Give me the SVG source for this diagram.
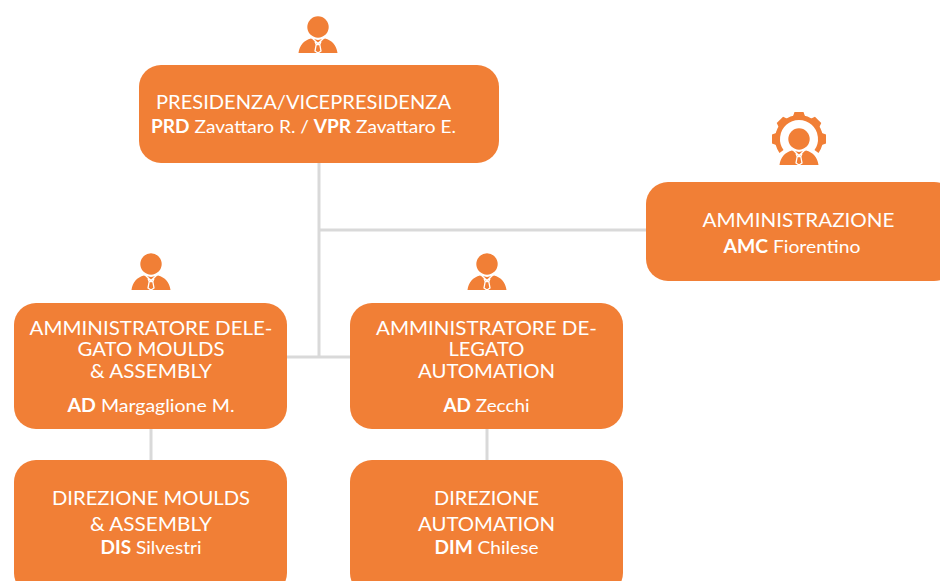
<svg xmlns="http://www.w3.org/2000/svg" width="940" height="581" viewBox="0 0 940 581">
<style>
.box{fill:#f17f36}
.l{stroke:#d9d9d9;stroke-width:3;fill:none}
text{font-family:"Lato","Open Sans","Liberation Sans",sans-serif;fill:#fff;text-anchor:middle}
.t{font-size:20px}
.s{font-size:18px}
.b{font-weight:700}
.ic{fill:#f17f36}
.tie{fill:none;stroke:#fff;stroke-width:1.3}
.tooth{fill:#f17f36}
</style>
<defs>
<g id="person">
<circle class="ic" cx="0" cy="0" r="10.700"/>
<path class="ic" d="M-19.500 26C-18.500 18-14 13.500-7 11.500L0 13L7 11.500C14 13.500 18.500 18 19.500 26Z"/>
<path class="tie" d="M-6.500 10.500L0 16.500L6.500 10.500M-3 14.500L-1.800 17.500L-3 24L0 26L3 24L1.800 17.500L3 14.500M-1.800 17.500H1.800"/>
</g>
<path id="tooth" class="tooth" d="M-7 -20L-4.500 -27H4.500L7 -20Z"/>
</defs>
<g id="connectors">
<path class="l" d="M319 162V357M319 230H646M287 357H351M151 428V461M487 428V461"/>
</g>
<g id="presidenza">
<use href="#person" x="318" y="27"/>
<rect class="box" x="139" y="65" width="360" height="98" rx="22"/>
<text class="t" x="303.500" y="109" textLength="295" lengthAdjust="spacingAndGlyphs">PRESIDENZA/VICEPRESIDENZA</text>
<text class="s" x="303.500" y="133" textLength="305" lengthAdjust="spacingAndGlyphs"><tspan class="b">PRD</tspan> Zavattaro R. / <tspan class="b">VPR</tspan> Zavattaro E.</text>
</g>
<g id="amministrazione">
<g transform="translate(799 139)">
<path d="M-17.500 12.500A21.500 21.500 0 1 1 17.500 12.500" fill="none" stroke="#f17f36" stroke-width="5"/>
<use href="#tooth"/>
<use href="#tooth" transform="rotate(45)"/>
<use href="#tooth" transform="rotate(90)"/>
<use href="#tooth" transform="rotate(-45)"/>
<use href="#tooth" transform="rotate(-90)"/>
</g>
<use href="#person" x="799" y="139"/>
<rect class="box" x="646" y="182" width="310" height="99" rx="22"/>
<text class="t" x="798.500" y="227" textLength="192" lengthAdjust="spacingAndGlyphs">AMMINISTRAZIONE</text>
<text class="s" x="792" y="253" textLength="137" lengthAdjust="spacingAndGlyphs"><tspan class="b">AMC</tspan> Fiorentino</text>
</g>
<g id="ad-moulds">
<use href="#person" x="151" y="264"/>
<rect class="box" x="14" y="303" width="273" height="126" rx="22"/>
<text class="t" x="151" y="335" textLength="243" lengthAdjust="spacingAndGlyphs">AMMINISTRATORE DELE-</text>
<text class="t" x="151" y="356" textLength="147" lengthAdjust="spacingAndGlyphs">GATO MOULDS</text>
<text class="t" x="151" y="378" textLength="122" lengthAdjust="spacingAndGlyphs">&amp; ASSEMBLY</text>
<text class="s" x="151" y="412" textLength="167" lengthAdjust="spacingAndGlyphs"><tspan class="b">AD</tspan> Margaglione M.</text>
</g>
<g id="ad-automation">
<use href="#person" x="487" y="264"/>
<rect class="box" x="350" y="303" width="273" height="126" rx="22"/>
<text class="t" x="486.500" y="335" textLength="221" lengthAdjust="spacingAndGlyphs">AMMINISTRATORE DE-</text>
<text class="t" x="486.500" y="356" textLength="76" lengthAdjust="spacingAndGlyphs">LEGATO</text>
<text class="t" x="486.500" y="378" textLength="137" lengthAdjust="spacingAndGlyphs">AUTOMATION</text>
<text class="s" x="486.500" y="412" textLength="86" lengthAdjust="spacingAndGlyphs"><tspan class="b">AD</tspan> Zecchi</text>
</g>
<g id="dir-moulds">
<rect class="box" x="14" y="460" width="273" height="135" rx="22"/>
<text class="t" x="151" y="505" textLength="198" lengthAdjust="spacingAndGlyphs">DIREZIONE MOULDS</text>
<text class="t" x="151" y="531" textLength="122" lengthAdjust="spacingAndGlyphs">&amp; ASSEMBLY</text>
<text class="s" x="151" y="554" textLength="101" lengthAdjust="spacingAndGlyphs"><tspan class="b">DIS</tspan> Silvestri</text>
</g>
<g id="dir-automation">
<rect class="box" x="350" y="460" width="273" height="135" rx="22"/>
<text class="t" x="486.500" y="505" textLength="105" lengthAdjust="spacingAndGlyphs">DIREZIONE</text>
<text class="t" x="486.500" y="531" textLength="137" lengthAdjust="spacingAndGlyphs">AUTOMATION</text>
<text class="s" x="486.500" y="554" textLength="104" lengthAdjust="spacingAndGlyphs"><tspan class="b">DIM</tspan> Chilese</text>
</g>
</svg>
